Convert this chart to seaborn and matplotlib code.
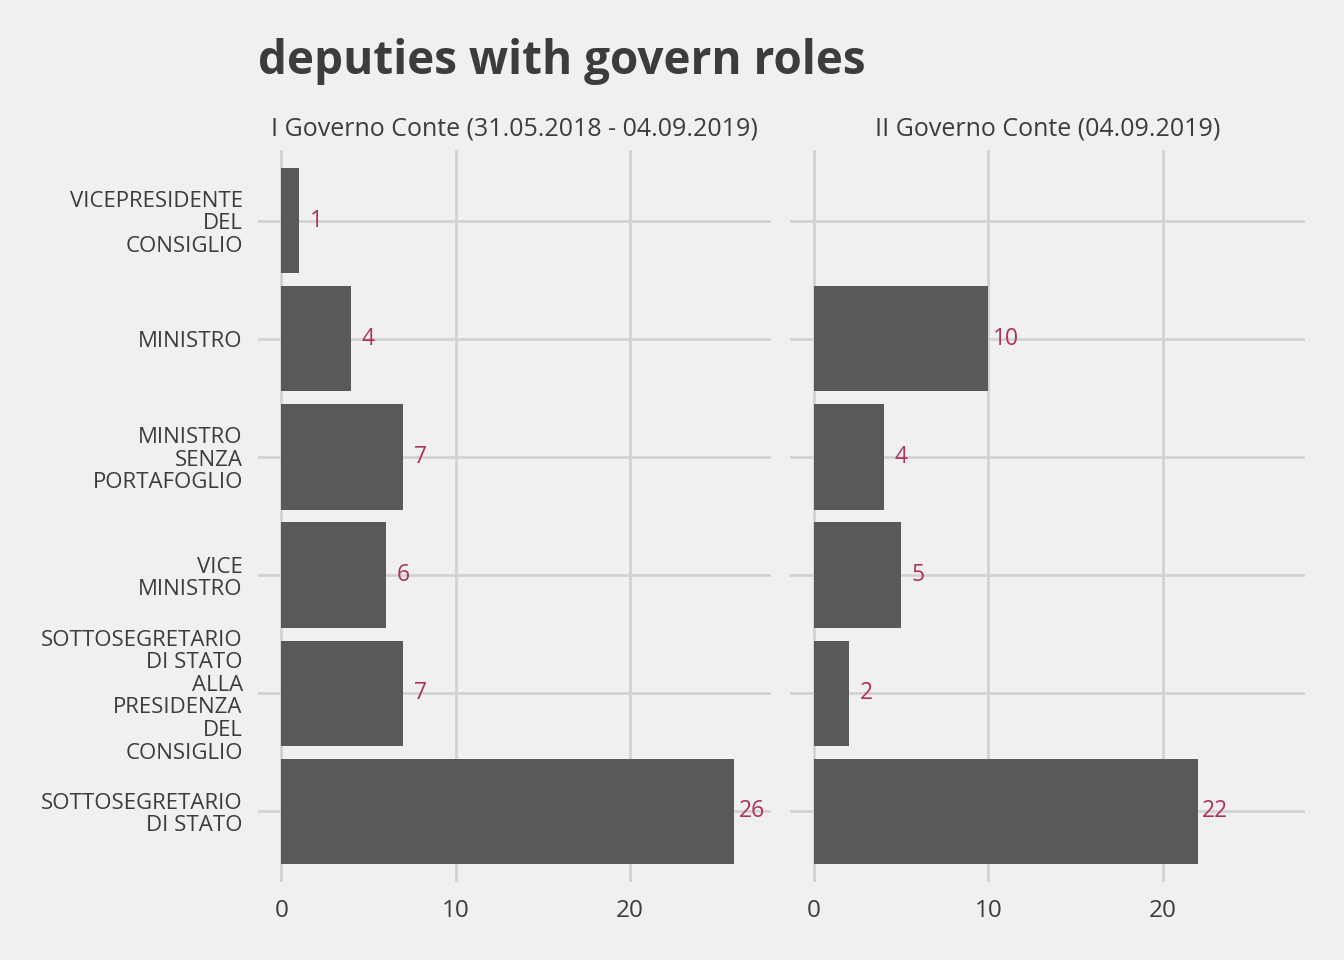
import pandas as pd
import seaborn as sns
import matplotlib.pyplot as plt

roles = ["VICEPRESIDENTE\nDEL\nCONSIGLIO", "MINISTRO", "MINISTRO\nSENZA\nPORTAFOGLIO",
         "VICE\nMINISTRO", "SOTTOSEGRETARIO\nDI STATO\nALLA\nPRESIDENZA\nDEL\nCONSIGLIO",
         "SOTTOSEGRETARIO\nDI STATO"]
governments = ["I Governo Conte (31.05.2018 - 04.09.2019)", "II Governo Conte (04.09.2019)"]
conte_1 = [1, 4, 7, 6, 7, 26]
conte_2 = [0, 10, 4, 5, 2, 22]

data = pd.DataFrame({
    "role": roles * 2,
    "government": [governments[0]] * 6 + [governments[1]] * 6,
    "count": conte_1 + conte_2,
})

bg = "#F0F0F0"
grid = "#D2D2D2"
txt = "#3C3C3C"

sns.set_theme(style="white")
plt.rcParams['font.family'] = ['Open Sans', 'DejaVu Sans']

fig = plt.figure(figsize=(13.44, 9.6), dpi=100, facecolor=bg)
ax1 = fig.add_axes([0.192, 0.081, 0.382, 0.763])
ax2 = fig.add_axes([0.588, 0.081, 0.383, 0.763])

for ax, gov in zip([ax1, ax2], governments):
    sub = data[(data["government"] == gov)]
    sub_pos = sub[sub["count"] > 0]
    ax.set_facecolor(bg)
    ax.set_axisbelow(True)
    sns.barplot(data=sub_pos, x="count", y="role", order=roles, orient="h",
                color="#595959", saturation=1, width=0.89, linewidth=0, ax=ax)
    for i, r in enumerate(roles):
        v = sub.loc[sub["role"] == r, "count"].iloc[0]
        if v > 0:
            ax.text(v + 1, i, str(v), color="#B03060", fontsize=16.5,
                    ha="center", va="center")
    ax.set_xlim(-1.34, 28.14)
    ax.set_ylim(5.6, -0.6)
    ax.set_xticks([0, 10, 20])
    ax.grid(True, color=grid, linewidth=2)
    for s in ax.spines.values():
        s.set_visible(False)
    ax.set_xlabel("")
    ax.set_ylabel("")
    ax.tick_params(axis="x", labelsize=17.5, colors=txt, length=0, pad=12)
    ax.tick_params(axis="y", labelsize=16, colors=txt, length=0, pad=11)
    ax.set_title(gov, fontsize=18, color=txt, pad=10)

ax2.set_yticklabels([])
for lab in ax1.get_yticklabels():
    lab.set_horizontalalignment("right")
    lab.set_multialignment("right")
    lab.set_linespacing(1.1)

fig.text(0.192, 0.936, "deputies with govern roles", fontsize=33, fontweight="bold",
         color=txt, ha="left", va="center")

fig.savefig("out.png", dpi=100, facecolor=bg)
